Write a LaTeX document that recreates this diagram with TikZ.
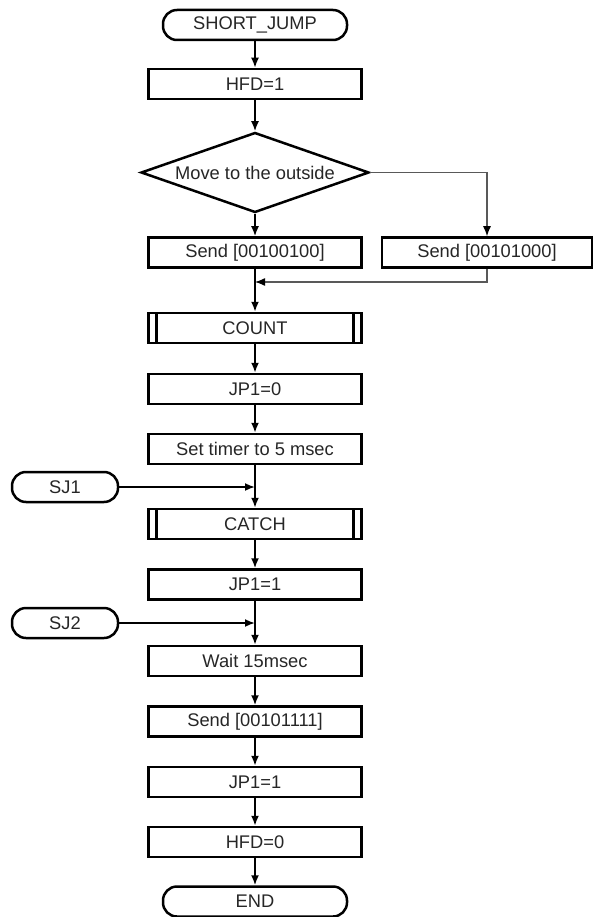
\documentclass[tikz,border=0pt]{standalone}
\usepackage{fontspec}
\setmainfont{Liberation Sans}
\usetikzlibrary{arrows.meta,shapes.geometric}
\begin{document}
\begin{tikzpicture}[x=1pt,y=-1pt,
  font=\fontsize{18.3}{22}\selectfont,
  base/.style={draw, line width=2.5pt, inner sep=0pt, text=black!85},
  proc/.style={base, rectangle, minimum width=213pt, minimum height=30pt},
  term/.style={base, rectangle, rounded corners=14pt, minimum height=30pt},
  predef/.style={proc, path picture={
      \draw[line width=2.5pt] ([xshift=8pt]path picture bounding box.north west) -- ([xshift=8pt]path picture bounding box.south west);
      \draw[line width=2.5pt] ([xshift=-8pt]path picture bounding box.north east) -- ([xshift=-8pt]path picture bounding box.south east);}},
  decis/.style={base, diamond, aspect=2.85, minimum width=228pt, minimum height=80pt},
  flow/.style={line width=1.8pt, -{Latex[length=10pt,width=8pt]}},
  thinflow/.style={line width=1.3pt, draw=black!65, -{Latex[length=10pt,width=8pt,color=black]}}
]
\useasboundingbox (0,0) rectangle (596,917);
\node[term, minimum width=184pt] (start) at (255,25) {SHORT\_JUMP};
\node[proc] (hfd1) at (255,84) {HFD=1};
\node[decis] (dec) at (255,172.5) {Move to the outside};
\node[proc] (s1) at (255,252.5) {Send [00100100]};
\node[proc, minimum width=210pt] (s2) at (487,252.5) {Send [00101000]};
\coordinate (m) at (255,282);
\node[predef] (count) at (255,328) {COUNT};
\node[proc] (jp0) at (255,389) {JP1=0};
\node[proc] (timer) at (255,449) {Set timer to 5 msec};
\node[term, minimum width=106pt] (sj1) at (65,487) {SJ1};
\coordinate (j1) at (255,487);
\node[predef] (catch) at (255,524) {CATCH};
\node[proc] (jp1a) at (255,584.5) {JP1=1};
\node[term, minimum width=106pt] (sj2) at (65,623) {SJ2};
\coordinate (j2) at (255,623);
\node[proc] (wait) at (255,661) {Wait 15msec};
\node[proc] (send3) at (255,721.5) {Send [00101111]};
\node[proc] (jp1b) at (255,782) {JP1=1};
\node[proc] (hfd0) at (255,842) {HFD=0};
\node[term, minimum width=184pt] (end) at (255,901.5) {END};

\draw[flow] (start) -- (hfd1);
\draw[flow] (hfd1) -- (dec);
\draw[flow] (dec.south) -- (s1);
\draw[thinflow] (dec.east) -| (s2.north);
\draw[flow] (s1) -- (count);
\draw[thinflow] (s2.south) |- (m);
\draw[flow] (count) -- (jp0);
\draw[flow] (jp0) -- (timer);
\draw[flow] (timer) -- (catch);
\draw[flow] (sj1) -- (j1);
\draw[flow] (catch) -- (jp1a);
\draw[flow] (jp1a) -- (wait);
\draw[flow] (sj2) -- (j2);
\draw[flow] (wait) -- (send3);
\draw[flow] (send3) -- (jp1b);
\draw[flow] (jp1b) -- (hfd0);
\draw[flow] (hfd0) -- (end);
\end{tikzpicture}
\end{document}
